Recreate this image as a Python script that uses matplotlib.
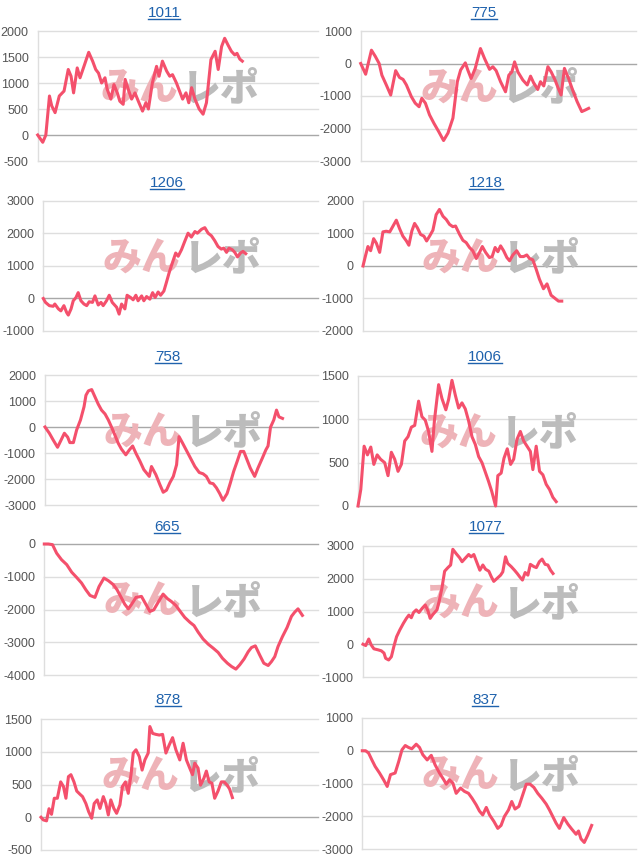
import matplotlib
matplotlib.use('Agg')
import matplotlib.pyplot as plt
from matplotlib.lines import Line2D

# ---------------- data ----------------
titles = ['1011', '775', '1206', '1218', '758', '1006', '665', '1077', '878', '837']

x_1011 = [0, 1.8, 2.9, 4.2, 5.0, 6.2, 7.7, 9.4, 10.9, 11.9, 12.8, 14.1, 15.1, 16.5, 18.2, 19.6, 20.7, 21.7, 22.8, 24.0,
          24.8, 26.1, 27.2, 28.4, 29.3, 30.5, 31.2, 32.3, 33.5, 34.7, 35.9, 37.4, 38.6, 39.5, 40.9, 42.4, 43.3, 44.5, 46.0, 47.1,
          48.1, 49.5, 51.7, 52.9, 53.9, 54.9, 56.1, 57.6, 59.0, 60.2, 61.8, 63.3, 64.4, 65.6, 66.7, 67.9, 69.1, 70.3, 71.1, 72.1, 73.0]
y_1011 = [0, -140, 0, 750, 560, 430, 750, 845, 1260, 1130, 810, 1290, 1100, 1320, 1590, 1420, 1260, 1190, 1000, 1100,
          880, 690, 970, 810, 650, 590, 1070, 880, 690, 810, 650, 460, 620, 500, 1000, 1320, 1130, 1420, 1230, 1130,
          1160, 1000, 690, 810, 620, 910, 690, 500, 400, 620, 1450, 1610, 1260, 1700, 1860, 1730, 1610, 1540, 1570, 1460, 1420]

x_775 = [0, 1.8, 3.9, 5.3, 6.7, 7.7, 9.3, 10.9, 12.7, 14.1, 15.4, 16.6, 18.4, 19.8, 21.2, 22.2, 23.5, 25.0, 26.6, 28.3,
         30.1, 31.7, 33.5, 35.1, 36.3, 38.0, 38.9, 40.1, 41.6, 43.5, 45.0, 46.8, 48.0, 49.2, 50.8, 52.6, 53.8, 54.9, 55.9, 57.1,
         58.9, 60.5, 61.7, 62.9, 64.3, 65.3, 66.5, 68.0, 69.2, 70.6, 71.8, 72.8, 74.0, 75.5, 77.0, 78.6, 80.3, 81.6, 82.8]
y_775 = [0, -330, 410, 220, 0, -360, -660, -970, -220, -430, -490, -660, -1020, -1220, -1330, -1070, -1220, -1580, -1840, -2090,
         -2370, -2140, -1680, -560, -200, 20, -200, -460, -150, 460, 150, -180, -100, -220, -560, -870, -360, -260, 50, -260,
         -510, -660, -390, -610, -800, -560, -690, -100, -260, -510, -770, -970, -150, -460, -820, -1170, -1480, -1430, -1380]

x_1206 = [0, 0.8, 2.2, 3.6, 4.2, 5.5, 6.4, 7.5, 8.5, 9.1, 10.1, 10.9, 11.9, 12.7, 13.7, 14.8, 15.8, 16.7, 17.9, 18.8,
          20.0, 21.0, 21.8, 23.0, 24.0, 25.1, 26.7, 27.6, 28.5, 29.7, 30.5, 31.8, 32.7, 33.7, 34.5, 35.8, 36.6, 37.6, 38.8, 39.8,
          40.7, 41.8, 42.7, 43.9, 44.8, 45.8, 47.0, 48.2, 49.1, 50.3, 51.5, 52.7, 53.9, 55.2, 56.1, 57.6, 58.8, 60.0, 61.2, 62.4,
          63.6, 64.8, 65.7, 66.7, 67.6, 68.8, 69.7, 70.7, 71.8, 72.7, 73.7]
y_1206 = [0, -120, -220, -240, -170, -320, -380, -220, -430, -510, -320, -70, 30, 180, -70, -170, -220, -100, -120, 80,
          -200, -120, -220, -70, 100, -120, -270, -480, -170, -320, 100, 30, -40, 100, -70, 80, -70, 60, -20, 180,
          30, 200, 100, 230, 490, 790, 1100, 1400, 1300, 1500, 1760, 2010, 1890, 2060, 2010, 2130, 2180, 2010, 1930, 1780,
          1600, 1520, 1550, 1420, 1550, 1500, 1420, 1280, 1400, 1450, 1380]

x_1218 = [0, 0.9, 1.8, 2.8, 3.9, 4.9, 6.1, 7.3, 8.5, 9.8, 11.0, 12.2, 13.4, 14.6, 15.9, 16.8, 17.9, 18.9, 19.9, 21.1,
          22.3, 23.3, 24.4, 25.6, 26.8, 28.0, 29.3, 30.5, 31.7, 32.9, 33.9, 35.4, 36.6, 37.8, 39.0, 40.2, 41.5, 42.7, 43.7, 44.9,
          46.3, 47.3, 48.4, 49.4, 50.4, 51.5, 52.7, 53.7, 54.9, 56.3, 57.6, 58.8, 60.0, 61.0, 62.2, 63.4, 64.6, 66.1, 67.4, 68.9,
          70.4, 71.6, 72.8]
y_1218 = [0, 310, 600, 470, 840, 700, 420, 1050, 1070, 1050, 1230, 1410, 1150, 920, 770, 640, 1080, 1310, 1180, 970,
          920, 770, 920, 1100, 1580, 1740, 1530, 1430, 1280, 1210, 1230, 970, 790, 720, 570, 470, 230, 420, 600, 420,
          260, 290, 570, 440, 620, 470, 260, 160, 340, 470, 290, 290, 340, 230, 190, -90, -400, -700, -550, -900,
          -1000, -1080, -1080]

x_758 = [0, 1.6, 3.0, 4.6, 5.9, 7.1, 8.3, 9.1, 10.4, 11.6, 13.0, 14.3, 15.0, 15.9, 17.1, 18.3, 19.5, 20.7, 22.0, 23.2,
         24.4, 25.6, 26.8, 28.0, 29.6, 30.9, 32.1, 33.3, 34.8, 36.2, 38.2, 39.0, 40.6, 42.1, 43.3, 44.5, 45.7, 47.0, 48.2, 49.1,
         50.4, 51.8, 53.3, 54.9, 56.5, 57.9, 59.1, 60.4, 61.6, 62.8, 64.0, 65.2, 66.7, 67.9, 69.1, 70.4, 71.6, 72.8, 74.0, 75.2,
         76.8, 78.0, 79.6, 80.9, 81.7, 82.6, 83.8, 84.8, 85.7, 87.0]
y_758 = [0, -240, -500, -780, -500, -240, -390, -600, -600, -110, 270, 780, 1220, 1390, 1440, 1160, 880, 650, 500, 270,
         -10, -310, -620, -850, -1070, -880, -730, -1010, -1320, -1640, -1900, -1520, -1830, -2220, -2510, -2430, -2150, -1900, -1450, -370,
         -620, -900, -1200, -1520, -1750, -1800, -1900, -2150, -2180, -2340, -2560, -2820, -2560, -2150, -1710, -1320, -940, -940, -1260, -1580,
         -1900, -1580, -1200, -880, -730, -10, 270, 650, 390, 330]

x_1006 = [0, 1.0, 2.2, 3.4, 4.6, 5.7, 6.9, 8.1, 9.6, 10.8, 12.0, 13.2, 14.4, 15.6, 16.8, 18.0, 19.2, 20.4, 21.8, 23.0,
          24.2, 25.4, 26.6, 27.5, 29.0, 30.2, 31.6, 32.6, 33.8, 35.0, 36.2, 37.4, 38.6, 39.8, 41.0, 42.2, 43.4, 44.6, 45.7, 46.9,
          48.1, 49.5, 50.3, 51.5, 52.5, 53.7, 54.9, 56.0, 57.2, 58.4, 59.6, 60.8, 62.0, 62.9, 64.1, 65.3, 66.5, 67.7, 68.9, 70.1, 71.3]
y_1006 = [0, 190, 690, 590, 680, 480, 590, 540, 500, 350, 620, 540, 400, 480, 750, 800, 910, 930, 1210, 1030,
          990, 860, 630, 990, 1400, 1240, 1110, 1230, 1450, 1280, 1130, 1190, 1120, 980, 800, 710, 570, 500, 400, 290,
          170, 0, 350, 380, 550, 660, 480, 540, 770, 860, 750, 690, 630, 420, 690, 400, 360, 250, 190, 100, 50]

x_665 = [0, 1.5, 3.0, 4.5, 6.3, 8.2, 10.0, 11.8, 13.6, 15.2, 16.7, 18.5, 20.0, 21.8, 23.4, 25.2, 26.6, 28.2, 29.4, 30.7,
         31.9, 33.5, 35.5, 37.1, 38.6, 40.0, 41.6, 43.4, 45.0, 46.5, 48.1, 49.5, 51.3, 53.2, 54.7, 56.2, 58.0, 59.9, 61.7, 63.5,
         65.1, 66.9, 68.4, 70.0, 71.4, 73.0, 74.5, 75.7, 77.1, 78.7, 80.2, 81.8, 83.0, 84.2, 85.4, 87.0, 88.7, 90.3, 91.5, 92.7, 94.3]
y_665 = [0, 0, -20, -280, -480, -630, -860, -1020, -1190, -1400, -1570, -1630, -1300, -1040, -1120, -1240, -1400, -1650, -1840, -1980,
         -1840, -1630, -1600, -1840, -2060, -2010, -1780, -1530, -1670, -1760, -1880, -2040, -2240, -2390, -2490, -2690, -2900, -3060, -3180, -3310,
         -3490, -3640, -3740, -3820, -3690, -3510, -3290, -3160, -3110, -3390, -3640, -3710, -3590, -3440, -3130, -2830, -2550, -2210, -2080, -1980, -2180]

x_1077 = [0, 1.0, 2.1, 3.0, 4.0, 5.5, 6.7, 7.7, 8.3, 9.4, 10.4, 11.3, 12.3, 13.5, 14.8, 15.9, 16.8, 17.7, 18.5, 19.5,
          20.5, 21.7, 22.8, 23.8, 24.6, 25.6, 27.1, 28.0, 28.9, 29.9, 31.1, 32.1, 32.9, 34.1, 35.4, 36.3, 37.6, 38.7, 39.6, 40.6,
          41.6, 42.8, 43.9, 44.9, 46.1, 47.0, 47.9, 49.1, 50.4, 51.2, 52.2, 53.0, 54.3, 55.5, 56.5, 57.4, 58.4, 59.4, 60.4, 61.3,
          62.6, 63.5, 64.6, 65.6, 66.7, 67.7, 68.7, 69.6]
y_1077 = [0, -40, 160, -20, -140, -170, -200, -270, -430, -480, -380, -70, 230, 440, 640, 790, 890, 810, 970, 1050,
          970, 1100, 1200, 1020, 790, 910, 1050, 1350, 1710, 2230, 2340, 2420, 2900, 2770, 2640, 2520, 2640, 2740, 2670, 2740,
          2520, 2260, 2420, 2290, 2230, 2060, 1920, 2010, 2110, 2210, 2670, 2470, 2370, 2260, 2160, 2060, 1960, 2190, 2110, 2440,
          2370, 2340, 2520, 2600, 2440, 2420, 2260, 2160]

x_878 = [0, 0.8, 2.0, 2.9, 3.8, 4.8, 5.9, 7.1, 8.1, 9.0, 9.9, 10.8, 11.9, 12.9, 14.1, 15.0, 16.2, 17.2, 18.3, 19.2,
         20.3, 21.3, 22.5, 23.4, 24.3, 25.2, 26.3, 27.3, 28.5, 29.4, 30.5, 31.5, 32.5, 33.3, 34.3, 35.5, 36.5, 37.5, 38.7, 39.3,
         40.3, 41.5, 42.7, 43.9, 45.1, 46.3, 47.5, 48.7, 50.1, 51.3, 52.5, 53.7, 54.7, 55.5, 56.7, 57.6, 58.8, 59.7, 60.7, 61.7,
         62.7, 63.9, 65.1, 66.1, 67.2, 68.1, 69.1]
y_878 = [0, -40, -55, 130, 45, 290, 290, 540, 470, 290, 620, 650, 540, 400, 350, 315, 210, 85, -15, 210,
         265, 135, 315, 210, 35, 265, 135, 60, 190, 470, 540, 365, 650, 980, 1030, 925, 720, 875, 980, 1385,
         1280, 1265, 1255, 1265, 980, 1105, 1215, 1030, 875, 1130, 875, 750, 650, 825, 750, 490, 595, 705, 540, 520,
         290, 400, 540, 540, 490, 430, 300]

x_837 = [0, 1.2, 2.3, 3.5, 4.7, 6.3, 7.8, 9.1, 10.3, 12.0, 13.3, 14.5, 15.7, 16.9, 18.1, 19.7, 20.9, 22.1, 23.7, 25.2,
         26.6, 28.2, 29.8, 30.7, 31.9, 33.1, 34.3, 35.9, 37.3, 38.8, 40.1, 41.6, 42.8, 44.0, 45.3, 46.5, 48.1, 49.5, 50.7, 51.9,
         53.4, 54.6, 55.8, 57.2, 58.6, 59.9, 61.3, 62.7, 64.1, 65.6, 67.2, 68.4, 69.6, 70.8, 72.0, 73.6, 75.1, 76.5, 78.1, 79.0,
         79.9, 81.1, 82.4, 83.8]
y_837 = [0, 0, -70, -280, -480, -680, -890, -1090, -730, -680, -330, 30, 160, 100, 60, 200, 100, -120, -280, -140,
         -430, -680, -890, -1020, -890, -990, -1300, -1140, -1240, -1300, -1450, -1650, -1840, -1960, -1730, -1960, -2160, -2370, -2280, -2010,
         -1810, -1550, -1780, -1700, -1350, -1020, -1020, -1120, -1300, -1450, -1630, -1810, -2010, -2210, -2370, -2040, -2240, -2390, -2550, -2450,
         -2690, -2800, -2570, -2280]

yticks = [
    [-500, 0, 500, 1000, 1500, 2000],
    [-3000, -2000, -1000, 0, 1000],
    [-1000, 0, 1000, 2000, 3000],
    [-2000, -1000, 0, 1000, 2000],
    [-3000, -2000, -1000, 0, 1000, 2000],
    [0, 500, 1000, 1500],
    [-4000, -3000, -2000, -1000, 0],
    [-1000, 0, 1000, 2000, 3000],
    [-500, 0, 500, 1000, 1500],
    [-3000, -2000, -1000, 0, 1000],
]
xs = [x_1011, x_775, x_1206, x_1218, x_758, x_1006, x_665, x_1077, x_878, x_837]
ys = [y_1011, y_775, y_1206, y_1218, y_758, y_1006, y_665, y_1077, y_878, y_837]

# ---------------- layout (pixels) ----------------
W, H = 638, 860
lefts = [37.7, 360.7, 43.3, 363, 45, 358, 44.3, 363, 41, 362.3]
rights = [318, 636] * 5
tops = [31, 31, 201, 201, 375, 376, 544, 546, 719, 718]
bottoms = [161, 161, 331, 331, 505, 506, 675, 677, 850, 849]
title_x = [164, 484, 167, 486, 168, 485, 167, 486, 168, 485]
title_y = [13, 13, 183, 183, 357, 357, 527, 527, 700, 700]

LINE = '#f4506c'
GRID = '#dedede'
ZERO = '#a8a8a8'
TICK = '#555555'
TITLE = '#1f62ad'
FONT = ['Liberation Sans', 'DejaVu Sans']
CJK = ['Noto Sans CJK JP', 'DejaVu Sans']

fig = plt.figure(figsize=(W / 100, H / 100), dpi=100)
title_texts = []
for i in range(10):
    l, r, t, b = lefts[i], rights[i], tops[i], bottoms[i]
    ax = fig.add_axes([l / W, 1 - b / H, (r - l) / W, (b - t) / H])
    ax.set_xlim(0, 100)
    tk = yticks[i]
    ax.set_ylim(tk[0], tk[-1])
    ax.set_yticks(tk)
    ax.set_yticklabels([str(v) for v in tk], fontsize=9, color=TICK, family=FONT)
    ax.set_xticks([])
    ax.tick_params(axis='y', length=0, pad=6.5)
    for s in ['top', 'right', 'bottom']:
        ax.spines[s].set_visible(False)
    ax.spines['left'].set_color(GRID)
    ax.spines['left'].set_linewidth(1)
    for v in tk:
        ax.axhline(v, color=ZERO if v == 0 else GRID, lw=1, zorder=1, clip_on=False)
    # watermark
    ax.text(0.50, 0.555, 'みん', transform=ax.transAxes, ha='right', va='center',
            fontsize=28, fontweight='heavy', color='#eeb3b8', family=CJK, zorder=2)
    ax.text(0.51, 0.555, 'レポ', transform=ax.transAxes, ha='left', va='center',
            fontsize=28, fontweight='heavy', color='#bcbcbc', family=CJK, zorder=2)
    ax.plot(xs[i], ys[i], color=LINE, lw=2.2, zorder=3, solid_joinstyle='round', clip_on=False)
    tt = fig.text(title_x[i] / W, 1 - title_y[i] / H, titles[i], ha='center', va='center',
                  fontsize=11, color=TITLE, family=FONT)
    title_texts.append(tt)

fig.canvas.draw()
renderer = fig.canvas.get_renderer()
for tt in title_texts:
    bb = tt.get_window_extent(renderer)
    yline = bb.y0 + 1.5
    fig.add_artist(Line2D([bb.x0 / W, bb.x1 / W], [yline / H, yline / H], color=TITLE, lw=1.0))

fig.savefig('out.png', dpi=100)
